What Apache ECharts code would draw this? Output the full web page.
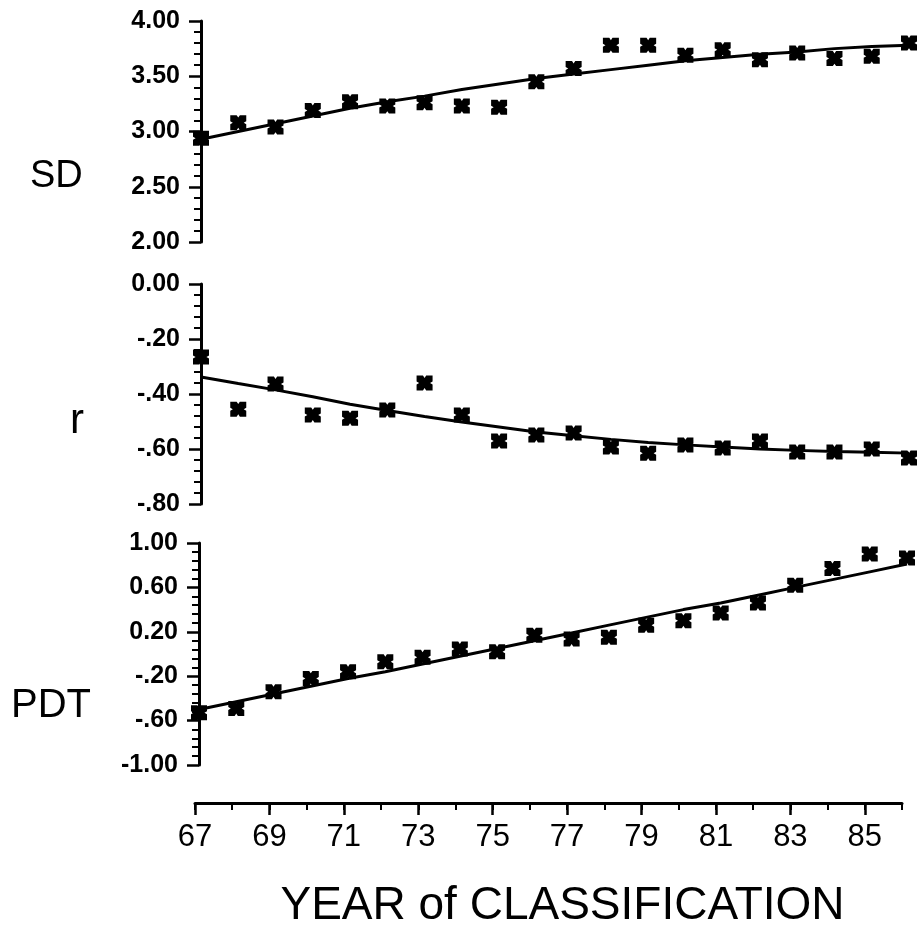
<!DOCTYPE html>
<html>
<head>
<meta charset="utf-8">
<title>SD, r and PDT by year of classification</title>
<script src="https://cdn.jsdelivr.net/npm/echarts@6/dist/echarts.min.js"></script>
<style>
  html, body { margin: 0; padding: 0; background: #fff; }
  #chart { width: 920px; height: 931px; }
</style>
</head>
<body>
<div id="chart"></div>
<script>
// years of classification (19xx)
const years = [67, 68, 69, 70, 71, 72, 73, 74, 75, 76, 77, 78, 79, 80, 81, 82, 83, 84, 85, 86];
const yearLabels = years.map(String);

// SD panel
const sdValues = [2.94, 3.08, 3.04, 3.19, 3.27, 3.23, 3.26, 3.23, 3.22, 3.45, 3.57, 3.78, 3.78, 3.69, 3.74, 3.65, 3.71, 3.66, 3.68, 3.80];
const sdFit = [2.93, 3.00, 3.07, 3.14, 3.21, 3.27, 3.32, 3.38, 3.43, 3.48, 3.52, 3.56, 3.60, 3.64, 3.67, 3.70, 3.72, 3.75, 3.77, 3.78];
const sdTickLabels = ['2.00', '2.50', '3.00', '3.50', '4.00'];

// r panel
const rValues = [-0.265, -0.455, -0.364, -0.476, -0.488, -0.458, -0.36, -0.476, -0.571, -0.549, -0.542, -0.593, -0.615, -0.585, -0.596, -0.571, -0.611, -0.611, -0.60, -0.633];
const rFit = [-0.338, -0.362, -0.385, -0.41, -0.437, -0.46, -0.482, -0.502, -0.52, -0.538, -0.552, -0.565, -0.576, -0.585, -0.593, -0.60, -0.605, -0.609, -0.612, -0.615];
const rTickLabels = ['-.80', '-.60', '-.40', '-.20', '0.00'];

// PDT panel
const pdtValues = [-0.53, -0.49, -0.34, -0.22, -0.16, -0.07, -0.03, 0.045, 0.02, 0.17, 0.135, 0.15, 0.26, 0.30, 0.37, 0.46, 0.62, 0.77, 0.90, 0.865];
const pdtFit = [-0.50, -0.43, -0.36, -0.29, -0.22, -0.16, -0.09, -0.02, 0.05, 0.12, 0.19, 0.26, 0.33, 0.40, 0.46, 0.53, 0.60, 0.67, 0.74, 0.81];
const pdtTickLabels = ['-1.00', '-.60', '-.20', '0.20', '0.60', '1.00'];

const pairs = vals => years.map((y, i) => [y, vals[i]]);

// bold notched square, like the plotter's asterisk marker
const starMark = 'path://M0,0L4,0L5,1.6L6,0L10,0L10,4L8.4,5L10,6L10,10L6,10L5,8.4L4,10L0,10L0,6L1.6,5L0,4Z';

const ink = '#000';
const tickFont = { color: ink, fontFamily: 'Liberation Sans', fontWeight: 'bold', fontSize: 25 };

function panelY(gridIndex, min, max, interval, labels) {
    return {
        type: 'value', gridIndex: gridIndex, min: min, max: max, interval: interval,
        axisLine: { show: true, lineStyle: { color: ink, width: 3 } },
        axisTick: { show: true, length: 12, lineStyle: { color: ink, width: 2.5 } },
        minorTick: { show: true, splitNumber: 5, length: 7, lineStyle: { color: ink, width: 2 } },
        axisLabel: Object.assign({ margin: 21, formatter: (v, i) => labels[i] }, tickFont),
        splitLine: { show: false }
    };
}

function hiddenX(gridIndex) {
    return { type: 'value', gridIndex: gridIndex, min: 67, max: 86, show: false };
}

function fitLine(idx, vals) {
    return {
        type: 'line', xAxisIndex: idx, yAxisIndex: idx, data: pairs(vals),
        showSymbol: false, symbol: 'none',
        lineStyle: { color: ink, width: 3 }, z: 2
    };
}

function points(idx, vals) {
    return {
        type: 'scatter', xAxisIndex: idx, yAxisIndex: idx, data: pairs(vals),
        symbol: starMark, symbolSize: [16, 15],
        itemStyle: { color: ink, opacity: 1 }, z: 3
    };
}

const chart = echarts.init(document.getElementById('chart'));
chart.setOption({
    animation: false,
    backgroundColor: '#fff',
    grid: [
        { left: 201, width: 708, top: 21, height: 221 },
        { left: 201, width: 708, top: 284, height: 220 },
        { left: 199, width: 708, top: 543, height: 222 },
        { left: 195, width: 707, top: 800, height: 3 }
    ],
    xAxis: [
        hiddenX(0), hiddenX(1), hiddenX(2),
        {
            type: 'category', gridIndex: 3, data: yearLabels, boundaryGap: false, position: 'bottom',
            axisLine: { show: true, lineStyle: { color: ink, width: 3 } },
            axisTick: { show: true, interval: 0, length: 7, lineStyle: { color: ink, width: 2 } },
            axisLabel: { interval: 1, margin: 19, color: ink, fontFamily: 'Liberation Sans', fontSize: 31 },
            name: 'YEAR of CLASSIFICATION', nameLocation: 'middle', nameGap: 80,
            nameTextStyle: { color: ink, fontFamily: 'Liberation Sans', fontSize: 46, padding: [0, 0, 0, 28] }
        },
        {
            type: 'category', gridIndex: 3, data: yearLabels, boundaryGap: false, position: 'bottom',
            axisLine: { show: false },
            axisTick: { show: true, interval: 1, length: 12, lineStyle: { color: ink, width: 2.5 } },
            axisLabel: { show: false }
        }
    ],
    yAxis: [
        panelY(0, 2, 4, 0.5, sdTickLabels),
        panelY(1, -0.8, 0, 0.2, rTickLabels),
        panelY(2, -1, 1, 0.4, pdtTickLabels),
        { type: 'value', gridIndex: 3, show: false }
    ],
    graphic: [
        { type: 'text', left: 30, top: 158, style: { text: 'SD', fill: ink, font: '38px "Liberation Sans"' } },
        { type: 'text', left: 70, top: 400, style: { text: 'r', fill: ink, font: '42px "Liberation Sans"' } },
        { type: 'text', left: 11, top: 686, style: { text: 'PDT', fill: ink, font: '40px "Liberation Sans"' } }
    ],
    series: [
        fitLine(0, sdFit), points(0, sdValues),
        fitLine(1, rFit), points(1, rValues),
        fitLine(2, pdtFit), points(2, pdtValues)
    ]
});
</script>
</body>
</html>
